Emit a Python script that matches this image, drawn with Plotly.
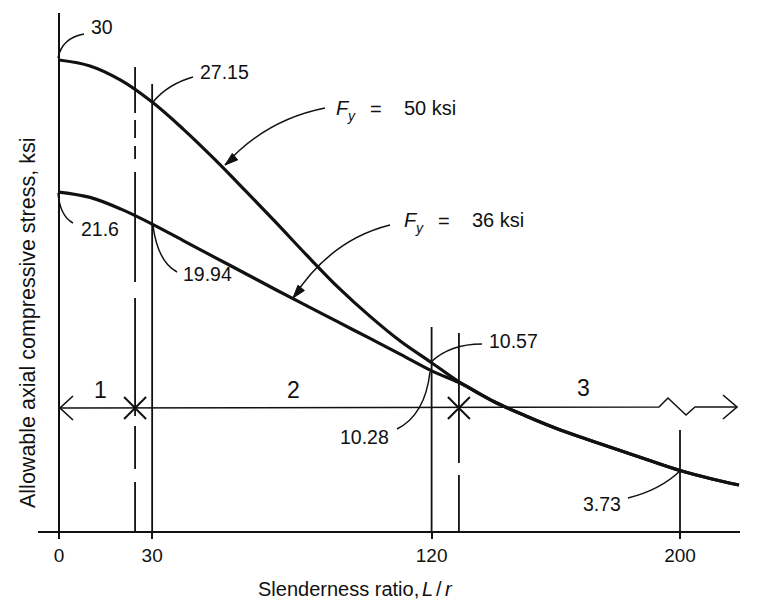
import plotly.graph_objects as go

# ---------------- data ----------------
slenderness = [0, 10, 20, 30, 40, 50, 60, 70, 80, 90, 100, 110, 120,
               130, 140, 150, 160, 170, 180, 190, 200, 210, 219]
fa_fy50 = [30.00, 29.62, 28.70, 27.32, 25.60, 23.70, 21.68, 19.62, 17.52, 15.50, 13.70, 12.08, 10.72,
           9.35, 8.25, 7.36, 6.55, 5.85, 5.18, 4.50, 3.85, 3.33, 2.93]
fa_fy36 = [21.59, 21.25, 20.50, 19.55, 18.50, 17.45, 16.40, 15.35, 14.32, 13.30, 12.28, 11.25, 10.20,
           9.35, 8.25, 7.36, 6.55, 5.85, 5.18, 4.50, 3.85, 3.33, 2.93]
tick_vals = [0, 30, 120, 200]
tick_text = ["0", "30", "120", "200"]
zone_limits = [24.5, 128.8]          # dashed boundaries between zones
zone_names = ["1", "2", "3"]
value_texts = ["30", "27.15", "21.6", "19.94", "10.57", "10.28", "3.73"]
series_names = ["50 ksi", "36 ksi"]

# ---------------- page pixel <-> data helpers (for decorations) ----------------
OFF = 8                      # page offset of the figure (default body margin)
PX0, PXS = 59.0, 3.105       # page px of x=0, px per unit L/r
PY0, PYS = 531.0, 15.7       # page px of y=0, px per ksi
W, H = 751, 603
PLOT_L, PLOT_R = 38, 740     # page px of plot area left/right
PLOT_T = OFF                 # page px of plot area top


def X(px):
    return (px - PX0) / PXS


def Y(py):
    return (PY0 - py) / PYS


def XP(px):                  # page px -> paper x
    return (px - PLOT_L) / (PLOT_R - PLOT_L)


def YP(py):                  # page py -> paper y
    return (PY0 - py) / (PY0 - PLOT_T)


def P(px, py):
    return f"{X(px):.4f},{Y(py):.4f}"


FONT = "Liberation Sans, Arial, Helvetica, sans-serif"
BLACK = "#111111"

fig = go.Figure()

for name, vals in zip(series_names, [fa_fy50, fa_fy36]):
    fig.add_trace(go.Scatter(x=slenderness, y=vals, mode="lines", name=name,
                             line=dict(color=BLACK, width=3.2, shape="spline", smoothing=1.0),
                             hoverinfo="skip", showlegend=False))

shapes = []


def seg(x0, y0, x1, y1, width=1.8, dash="solid"):
    shapes.append(dict(type="line", xref="x", yref="y", x0=x0, y0=y0, x1=x1, y1=y1,
                       line=dict(color=BLACK, width=width, dash=dash)))


def path(d, width=1.6, fill=None):
    s = dict(type="path", xref="x", yref="y", path=d, line=dict(color=BLACK, width=width))
    if fill:
        s["fillcolor"] = fill
    shapes.append(s)


# y axis line
seg(0, 0, 0, Y(13), width=2)
# vertical reference lines
seg(30, Y(84), 30, 0, width=1.8)
seg(120, Y(327), 120, 0, width=1.8)
seg(200, Y(430), 200, 0, width=1.8)
seg(zone_limits[1], Y(333), zone_limits[1], 0, width=1.8, dash="130px,12px")
seg(zone_limits[0], Y(67), zone_limits[0], 0, width=1.8,
    dash="46px,7px,18px,8px,13px,13px,110px,16px,118px,10px,43px,13px,60px")

# zone arrow line with break symbol
path("M " + P(60, 408) + " L " + P(659, 407) + " L " + P(668, 398) + " L " + P(686, 415)
     + " L " + P(695, 407) + " L " + P(737, 407), width=1.5)
path("M " + P(73, 396) + " L " + P(60, 408) + " L " + P(73, 420), width=1.6)
path("M " + P(723, 395) + " L " + P(737, 407) + " L " + P(723, 419), width=1.6)
# X markers at zone limits
for xl in zone_limits:
    cx = PX0 + PXS * xl
    path("M " + P(cx - 11, 397) + " L " + P(cx + 11, 419) + " M " + P(cx - 11, 419)
         + " L " + P(cx + 11, 397), width=2)

# leader curves for value labels
leaders = [
    ((58, 58), (62, 38), (84, 34)),
    ((153, 102), (168, 84), (193, 77)),
    ((58, 193), (60, 216), (73, 223)),
    ((153, 226), (158, 262), (177, 272)),
    ((431, 362), (450, 344), (482, 344)),
    ((430, 372), (425, 415), (397, 429)),
    ((680, 471), (660, 490), (628, 498)),
    ((225, 165), (265, 120), (325, 108)),
    ((293, 298), (330, 240), (390, 225)),
]
for a, c, b in leaders:
    path("M " + P(*a) + " Q " + P(*c) + " " + P(*b), width=1.5)


# filled arrow heads on the F_y leaders
def arrowhead(tip, tail, length=13, half=4.2):
    dx, dy = tail[0] - tip[0], tail[1] - tip[1]
    n = (dx * dx + dy * dy) ** 0.5
    ux, uy = dx / n, dy / n
    bx, by = tip[0] + ux * length, tip[1] + uy * length
    nx, ny = -uy, ux
    p1 = (bx + nx * half, by + ny * half)
    p2 = (bx - nx * half, by - ny * half)
    path("M " + P(*tip) + " L " + P(*p1) + " L " + P(*p2) + " Z", width=1, fill=BLACK)


arrowhead((225, 165), (243, 150))
arrowhead((293, 298), (310, 277))

annotations = []


def text(px, py, t, size=19.5, xanchor="center", angle=0, style="normal", paper=False):
    if paper:
        pos = dict(x=XP(px), y=YP(py), xref="paper", yref="paper")
    else:
        pos = dict(x=X(px), y=Y(py), xref="x", yref="y")
    annotations.append(dict(**pos, text=t, showarrow=False,
                            xanchor=xanchor, yanchor="middle", textangle=angle,
                            font=dict(family=FONT, size=size, color=BLACK, style=style)))


label_pos = [(102, 27), (224, 72), (99.5, 229), (207, 274), (513.5, 341), (364.5, 437), (602, 504)]
for (px, py), t in zip(label_pos, value_texts):
    text(px, py, t)

for (px, py), t in zip([(100, 390), (293, 390), (583, 388)], zone_names):
    text(px, py, t, size=23)

# F_y labels
for (fx, fy), name in zip([(334, 108), (402, 220)], series_names):
    text(fx, fy, "F", size=20, xanchor="left", style="italic")
    text(fx + 11, fy + 8, "y", size=14, xanchor="left", style="italic")
    text(fx + 42, fy + 0.5, "=", size=20)
    text(fx + 68, fy, name, size=20, xanchor="left")

# axis titles (outside the plot area -> paper coordinates)
text(256, 589, "Slenderness ratio,", size=20, xanchor="left", paper=True)
text(420, 589, "L", size=20, xanchor="left", style="italic", paper=True)
text(438.5, 589, "/", size=20, paper=True)
text(443, 589, "r", size=20, xanchor="left", style="italic", paper=True)
text(28, 323, "Allowable axial compressive stress, ksi", size=21.5, angle=-90, paper=True)

fig.update_layout(
    width=W, height=H, autosize=False,
    margin=dict(l=PLOT_L - OFF, r=W - (PLOT_R - OFF), t=0, b=H - (int(PY0) - OFF), pad=0),
    paper_bgcolor="white", plot_bgcolor="white",
    shapes=shapes, annotations=annotations, hovermode=False,
    xaxis=dict(range=[X(PLOT_L), X(PLOT_R)], showgrid=False, zeroline=False, showline=True,
               linecolor=BLACK, linewidth=2, ticks="outside", ticklen=6, tickwidth=1.6,
               tickcolor=BLACK, tickvals=tick_vals, ticktext=tick_text,
               tickfont=dict(family=FONT, size=19, color=BLACK), fixedrange=True),
    yaxis=dict(range=[0, Y(PLOT_T)], visible=False, showgrid=False, zeroline=False, fixedrange=True),
)

fig.write_html("out.html", config={"displayModeBar": False})
